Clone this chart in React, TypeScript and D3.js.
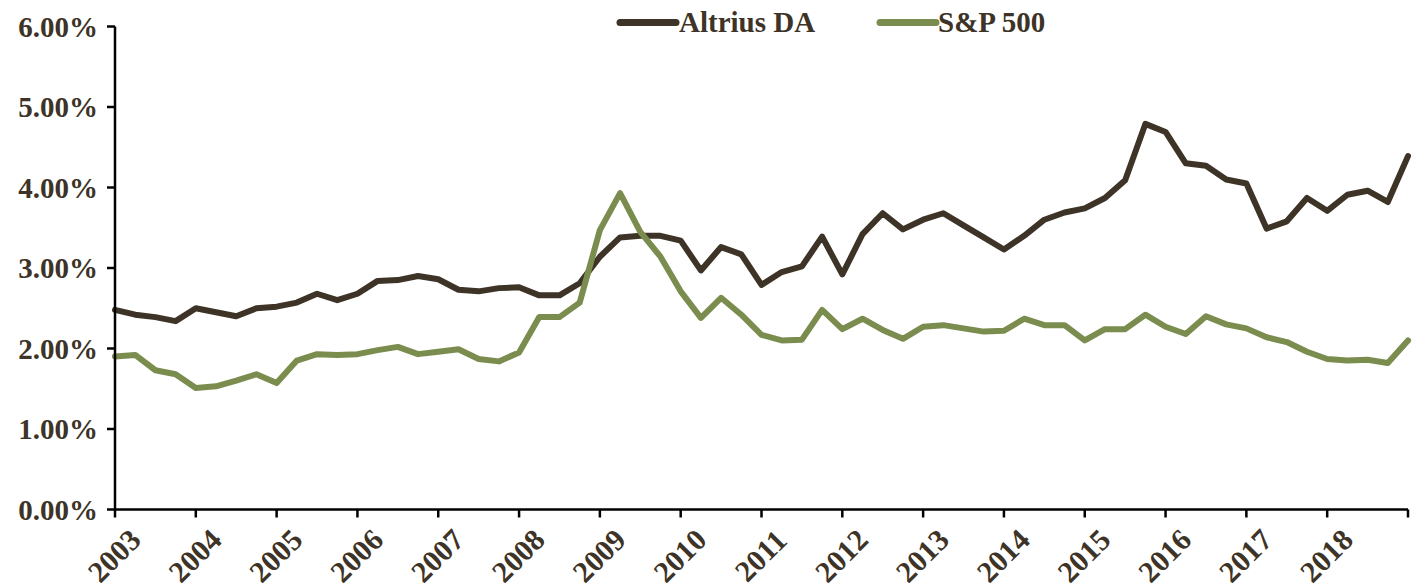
import { line, scaleLinear } from "d3";

const WIDTH = 1418;
const HEIGHT = 587;
const MARGIN = { top: 26.5, right: 10, bottom: 77.5, left: 115 };

const FONT = "'Liberation Serif', 'Times New Roman', serif";
const TEXT_COLOR = "#3d3326";
const ALTRIUS_COLOR = "#3d3326";
const SP_COLOR = "#7b8c4f";

// quarterly observations, 2003 Q1 through 2019 Q1
const altriusDA = [
  2.48, 2.42, 2.39, 2.34, 2.5, 2.45, 2.4, 2.5, 2.52, 2.57, 2.68, 2.6, 2.68,
  2.84, 2.85, 2.9, 2.86, 2.73, 2.71, 2.75, 2.76, 2.66, 2.66, 2.81, 3.14, 3.38,
  3.4, 3.4, 3.34, 2.97, 3.26, 3.17, 2.79, 2.95, 3.02, 3.39, 2.92, 3.42, 3.68,
  3.48, 3.6, 3.68, 3.53, 3.38, 3.23, 3.4, 3.6, 3.69, 3.74, 3.87, 4.09, 4.79,
  4.69, 4.3, 4.27, 4.1, 4.05, 3.49, 3.58, 3.87, 3.71, 3.91, 3.96, 3.82, 4.39,
];

const sp500 = [
  1.9, 1.92, 1.73, 1.68, 1.51, 1.53, 1.6, 1.68, 1.57, 1.85, 1.93, 1.92, 1.93,
  1.98, 2.02, 1.93, 1.96, 1.99, 1.87, 1.84, 1.95, 2.39, 2.39, 2.57, 3.47, 3.93,
  3.45, 3.14, 2.71, 2.38, 2.63, 2.42, 2.17, 2.1, 2.11, 2.48, 2.24, 2.37, 2.23,
  2.12, 2.27, 2.29, 2.25, 2.21, 2.22, 2.37, 2.29, 2.29, 2.1, 2.24, 2.24, 2.42,
  2.27, 2.18, 2.4, 2.3, 2.25, 2.14, 2.08, 1.96, 1.87, 1.85, 1.86, 1.82, 2.1,
];

const YEARS = [
  2003, 2004, 2005, 2006, 2007, 2008, 2009, 2010, 2011, 2012, 2013, 2014, 2015,
  2016, 2017, 2018,
];
const Y_TICKS = [0, 1, 2, 3, 4, 5, 6];

const series = [
  { label: "Altrius DA", color: ALTRIUS_COLOR, values: altriusDA },
  { label: "S&P 500", color: SP_COLOR, values: sp500 },
];

export default function App() {
  const xScale = scaleLinear()
    .domain([0, altriusDA.length - 1])
    .range([MARGIN.left, WIDTH - MARGIN.right]);
  const yScale = scaleLinear()
    .domain([0, 6])
    .range([HEIGHT - MARGIN.bottom, MARGIN.top]);

  const path = line<number>()
    .x((_, i) => xScale(i))
    .y((d) => yScale(d));

  const axisY = yScale(0);
  const quarterTicks = Array.from({ length: YEARS.length + 1 }, (_, i) => i * 4);

  const legendItems = [
    { x: 620, textX: 679 },
    { x: 880, textX: 938 },
  ];

  return (
    <div style={{ position: "absolute", left: 0, top: 0 }}>
      <svg width={WIDTH} height={HEIGHT} style={{ display: "block" }} fontFamily={FONT}>
        <rect width={WIDTH} height={HEIGHT} fill="#ffffff" />

        {series.map((s) => (
          <path
            key={s.label}
            d={path(s.values) ?? ""}
            fill="none"
            stroke={s.color}
            strokeWidth={6}
            strokeLinejoin="round"
            strokeLinecap="round"
          />
        ))}

        {/* y axis */}
        <line x1={MARGIN.left} x2={MARGIN.left} y1={MARGIN.top} y2={axisY} stroke="#000" strokeWidth={2.5} />
        {Y_TICKS.map((t) => (
          <g key={t}>
            <line x1={MARGIN.left - 8} x2={MARGIN.left} y1={yScale(t)} y2={yScale(t)} stroke="#000" strokeWidth={2.5} />
            <text
              x={98}
              y={yScale(t)}
              dy="0.35em"
              textAnchor="end"
              fontSize={29}
              fontWeight="bold"
              fill={TEXT_COLOR}
            >
              {`${t.toFixed(2)}%`}
            </text>
          </g>
        ))}

        {/* x axis */}
        <line x1={MARGIN.left} x2={WIDTH - MARGIN.right} y1={axisY} y2={axisY} stroke="#000" strokeWidth={2.5} />
        {quarterTicks.map((q) => (
          <line key={q} x1={xScale(q)} x2={xScale(q)} y1={axisY} y2={axisY + 8} stroke="#000" strokeWidth={2.5} />
        ))}
        {YEARS.map((year, i) => (
          <text
            key={year}
            transform={`translate(${xScale(i * 4) - 1},${axisY + 46}) rotate(-45)`}
            textAnchor="middle"
            dy="0.35em"
            fontSize={30}
            fontWeight="bold"
            fill={TEXT_COLOR}
          >
            {year}
          </text>
        ))}

        {/* legend */}
        {series.map((s, i) => (
          <g key={s.label}>
            <line
              x1={legendItems[i].x}
              x2={legendItems[i].x + 56}
              y1={22.5}
              y2={22.5}
              stroke={s.color}
              strokeWidth={7}
              strokeLinecap="round"
            />
            <text x={legendItems[i].textX} y={32} fontSize={29} fontWeight="bold" fill={TEXT_COLOR}>
              {s.label}
            </text>
          </g>
        ))}
      </svg>
    </div>
  );
}
